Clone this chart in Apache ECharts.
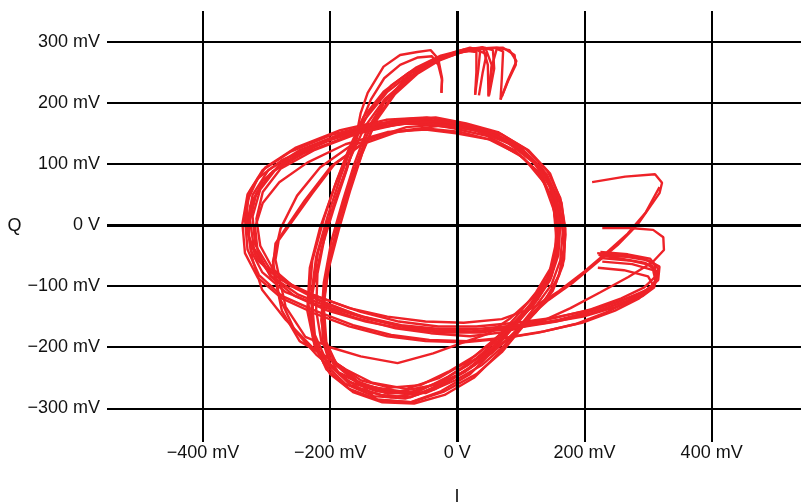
<!DOCTYPE html>
<html>
<head>
<meta charset="utf-8">
<script src="https://cdn.jsdelivr.net/npm/echarts@6/dist/echarts.min.js"></script>
<style>
  html, body { margin: 0; padding: 0; background: #fff; }
  #container { width: 801px; height: 504px; }
</style>
</head>
<body>
<div id="container"></div>
<script>
// axis ticks (mV)
var iTicks = [-400, -200, 0, 200, 400];
var qTicks = [-300, -200, -100, 0, 100, 200, 300];

// I/Q samples per sweep, [I, Q] in mV
var sweep1 = [[212,70],[264,79],[311,83],[322,69],[318,52],[283,0],[252,-33],[220,-61],[181,-95],[143,-123],[112,-152],[75,-196],[39,-229],[-3,-254],[-50,-275],[-97,-273],[-145,-262],[-187,-241],[-219,-208],[-230,-164],[-228,-106],[-219,-44],[-200,16],[-179,77],[-162,128],[-150,170],[-136,205],[-115,240],[-90,262],[-62,274],[-40,276],[-30,262],[-24,237],[-25,216]];

var sweep2 = [[228,-5],[272,-5],[308,-8],[324,-20],[325,-41],[307,-61],[269,-85],[225,-110],[178,-136],[130,-159],[75,-175],[20,-182],[-42,-177],[-97,-169],[-160,-152],[-219,-131],[-270,-110],[-307,-77],[-325,-41],[-330,5],[-322,49],[-297,90],[-247,123],[-176,152],[-105,169],[-42,172],[5,162],[55,149],[99,126],[135,90],[156,49],[162,0],[159,-49],[146,-90],[123,-126],[91,-164],[60,-201],[20,-234],[-27,-262],[-74,-282],[-121,-278],[-168,-262],[-200,-229],[-212,-188],[-212,-123],[-200,-49],[-182,25],[-162,90],[-142,147],[-115,200],[-80,238],[-42,267],[-3,283],[20,290],[36,286],[33,254],[28,213]];

var sweep3 = [[225,-44],[268,-48],[303,-55],[316,-72],[311,-96],[289,-112],[252,-126],[205,-140],[150,-152],[92,-160],[30,-166],[-30,-166],[-92,-158],[-152,-142],[-212,-120],[-262,-100],[-300,-72],[-320,-38],[-326,8],[-316,52],[-290,88],[-240,118],[-170,146],[-100,165],[-40,168],[8,160],[58,146],[104,120],[140,84],[160,40],[166,-10],[162,-58],[148,-98],[124,-132],[96,-168],[65,-210],[26,-250],[-20,-278],[-68,-292],[-118,-290],[-163,-274],[-200,-244],[-224,-200],[-236,-140],[-232,-70],[-216,-5],[-194,60],[-172,118],[-146,172],[-110,218],[-70,250],[-30,272],[8,286],[40,291],[48,262],[49,212],[55,262],[62,288],[72,284],[70,240],[68,205]];

var sweep4 = [[222,-49],[262,-56],[296,-62],[314,-76],[310,-100],[286,-120],[248,-140],[196,-160],[136,-174],[78,-184],[18,-190],[-44,-188],[-104,-180],[-164,-164],[-224,-140],[-276,-116],[-312,-82],[-330,-40],[-334,10],[-326,56],[-302,94],[-255,126],[-184,155],[-112,172],[-48,176],[2,166],[52,153],[96,130],[132,94],[152,52],[158,2],[155,-46],[142,-86],[118,-120],[84,-152],[48,-178],[15,-190],[-38,-210],[-94,-226],[-152,-215],[-200,-200],[-239,-183],[-270,-134],[-286,-57],[-281,-25],[-228,52],[-192,101],[-140,140],[-80,160],[-20,165],[30,158],[78,140],[118,108],[145,64],[157,14],[156,-36],[146,-80],[126,-118],[98,-152],[66,-192],[28,-228],[-18,-258],[-64,-278],[-112,-272],[-158,-256],[-190,-228],[-206,-192],[-210,-132],[-202,-62],[-186,6],[-166,70],[-146,128],[-124,180],[-94,222],[-58,254],[-18,276],[22,288],[62,290],[82,286],[93,268],[80,238],[68,205]];

var sweep5 = [[221,-70],[262,-74],[300,-84],[310,-102],[292,-116],[250,-134],[198,-150],[140,-160],[82,-168],[22,-174],[-36,-172],[-96,-164],[-156,-148],[-214,-124],[-258,-100],[-296,-70],[-318,-32],[-322,14],[-310,58],[-282,96],[-232,126],[-164,154],[-96,172],[-34,176],[14,166],[64,152],[108,124],[142,88],[162,44],[170,-6],[168,-56],[154,-98],[128,-136],[100,-170],[70,-208],[30,-244],[-20,-272],[-72,-290],[-126,-286],[-176,-237],[-228,-200],[-270,-155],[-307,-106],[-322,-57],[-330,-5],[-320,44],[-294,84],[-250,116],[-180,148],[-110,166],[-50,170],[0,162],[48,150],[92,128],[128,96],[150,58],[160,10],[158,-40],[148,-84],[126,-122],[94,-160],[58,-198],[16,-230],[-30,-258],[-80,-276],[-126,-272],[-172,-256],[-206,-222],[-224,-180],[-230,-118],[-222,-52],[-204,14],[-184,78],[-164,134],[-138,186],[-104,228],[-64,258],[-26,277],[12,287],[44,290],[54,262],[49,210]];

var sweep6 = [[318,62],[296,20],[268,-14],[236,-44],[200,-76],[160,-108],[118,-136],[70,-154],[10,-160],[-50,-158],[-110,-150],[-170,-136],[-228,-114],[-280,-88],[-314,-58],[-328,-20],[-326,30],[-306,72],[-265,110],[-200,140],[-130,160],[-62,168],[-6,158],[46,146],[90,122],[126,88],[148,46],[156,0],[154,-50],[140,-92],[116,-128],[86,-166],[52,-204],[12,-240],[-34,-268],[-82,-284],[-132,-280],[-176,-260],[-210,-226],[-226,-178],[-228,-112],[-214,-40],[-194,28],[-174,90],[-160,140],[-152,183],[-141,216],[-116,259],[-90,278],[-63,283],[-42,286],[-30,272],[-24,240],[-25,216]];

var sweep7 = [[226,-54],[270,-58],[306,-66],[315,-84],[304,-104],[276,-122],[236,-142],[186,-162],[128,-176],[70,-186],[10,-192],[-50,-190],[-110,-182],[-170,-166],[-226,-144],[-276,-120],[-314,-86],[-334,-46],[-338,2],[-330,50],[-306,90],[-262,120],[-196,148],[-126,166],[-60,172],[-4,166],[48,152],[94,128],[130,92],[152,50],[160,4],[158,-44],[146,-88],[122,-124],[92,-156],[56,-190],[18,-222],[-28,-250],[-80,-268],[-134,-258],[-176,-236],[-206,-216],[-248,-190],[-276,-140],[-290,-70],[-286,-30],[-240,40],[-200,94],[-150,132],[-90,154],[-28,162],[26,156],[76,140],[116,110],[144,70],[158,24],[160,-28],[150,-74],[130,-112],[100,-148],[68,-184],[30,-218],[-14,-248],[-60,-272],[-110,-276],[-156,-260],[-190,-230],[-208,-190],[-212,-136],[-202,-70],[-186,-6],[-168,58],[-150,116],[-128,170],[-98,214],[-62,248],[-24,272],[14,285],[30,283],[30,250],[28,213]];

var sweep8 = [[228,-60],[275,-64],[308,-74],[312,-92],[298,-110],[262,-126],[212,-144],[156,-158],[96,-168],[36,-176],[-24,-176],[-84,-170],[-144,-158],[-204,-140],[-256,-116],[-294,-84],[-314,-44],[-318,-4],[-306,36],[-280,70],[-236,102],[-176,132],[-110,152],[-50,156],[-2,150],[50,140],[96,116],[132,82],[150,40],[156,-6],[154,-54],[142,-96],[120,-130],[90,-164],[58,-204],[20,-244],[-26,-272],[-74,-290],[-124,-286],[-170,-268],[-206,-236],[-226,-190],[-234,-130],[-228,-58],[-210,10],[-190,72],[-170,126],[-148,176],[-116,218],[-78,248],[-38,270],[2,284],[40,290],[56,286],[58,256],[50,212]];

var sweep9 = [[224,-50],[266,-52],[300,-58],[318,-68],[316,-90],[298,-106],[262,-122],[214,-140],[160,-155],[100,-166],[40,-174],[-20,-174],[-80,-168],[-140,-154],[-198,-136],[-250,-114],[-292,-84],[-318,-48],[-332,-6],[-330,40],[-314,76],[-276,106],[-216,134],[-146,156],[-80,166],[-22,164],[30,154],[80,134],[120,102],[148,62],[164,14],[168,-36],[160,-82],[140,-120],[110,-154],[78,-188],[40,-220],[-6,-250],[-54,-274],[-104,-282],[-150,-270],[-186,-244],[-206,-206],[-214,-156],[-210,-94],[-198,-26],[-180,40],[-162,100],[-142,156],[-116,200],[-84,236],[-46,262],[-8,280],[28,287],[46,280],[40,250],[34,212]];

var sweep10 = [[220,-46],[258,-50],[290,-54],[310,-64],[312,-84],[294,-102],[258,-120],[210,-138],[154,-152],[94,-164],[32,-170],[-28,-170],[-88,-164],[-148,-150],[-206,-130],[-254,-104],[-290,-72],[-310,-34],[-316,10],[-306,54],[-278,92],[-226,122],[-156,150],[-88,166],[-28,170],[20,162],[70,148],[112,122],[146,84],[164,36],[170,-16],[166,-66],[150,-108],[124,-142],[92,-174],[54,-210],[12,-240],[-36,-262],[-90,-272],[-142,-264],[-188,-242],[-222,-212],[-256,-172],[-280,-118],[-290,-60],[-278,-6],[-252,48],[-216,94],[-170,128],[-110,150],[-50,158],[6,152],[58,138],[104,110],[136,70],[152,24],[156,-26],[146,-72],[124,-110],[96,-146],[64,-182],[28,-214],[-14,-240],[-58,-262],[-106,-266],[-152,-254],[-190,-226],[-214,-190],[-222,-140],[-220,-80],[-208,-16],[-190,48],[-170,106],[-146,160],[-114,206],[-76,240],[-36,266],[4,282],[42,289],[72,290],[90,278],[92,262],[80,236],[70,210]];

var sweeps = [sweep1, sweep2, sweep3, sweep4, sweep5, sweep6, sweep7, sweep8, sweep9, sweep10];

function mvLabel(v) {
  if (v === 0) return '0 V';
  return (v < 0 ? '\u2212' + (-v) : v) + ' mV';
}

var dom = document.getElementById('container');
var myChart = echarts.init(dom);

var series = sweeps.map(function (s) {
  return {
    type: 'line',
    data: s,
    showSymbol: false,
    symbol: 'none',
    z: 3,
    lineStyle: { color: '#ee2228', width: 2.4 },
    animation: false
  };
});

// thicker zero lines
series.unshift({
  type: 'line',
  data: [],
  z: 1,
  silent: true,
  markLine: {
    silent: true,
    symbol: ['none', 'none'],
    animation: false,
    label: { show: false },
    lineStyle: { color: '#000', width: 3, type: 'solid' },
    data: [{ xAxis: 0 }, { yAxis: 0 }]
  }
});

var labelFont = {
  fontFamily: 'Liberation Sans',
  fontSize: 18,
  color: '#111'
};

myChart.setOption({
  animation: false,
  grid: { left: 107, right: -6, top: 11, bottom: 62, outerBoundsMode: 'none' },
  xAxis: {
    type: 'value',
    min: -551,
    max: 550,
    name: 'I',
    nameLocation: 'middle',
    nameGap: 46,
    nameTextStyle: labelFont,
    axisLine: { show: false },
    axisTick: { show: false, customValues: iTicks },
    axisLabel: Object.assign({ customValues: iTicks, margin: 2, formatter: mvLabel }, labelFont),
    splitLine: { show: true, lineStyle: { color: '#000', width: 2 } }
  },
  yAxis: {
    type: 'value',
    min: -355,
    max: 350,
    name: 'Q',
    nameLocation: 'middle',
    nameRotate: 0,
    nameGap: 82,
    nameTextStyle: labelFont,
    axisLine: { show: false },
    axisTick: { show: false, customValues: qTicks },
    axisLabel: Object.assign({ customValues: qTicks, margin: 7, formatter: mvLabel }, labelFont),
    splitLine: { show: true, lineStyle: { color: '#000', width: 2 } }
  },
  series: series
});
</script>
</body>
</html>
